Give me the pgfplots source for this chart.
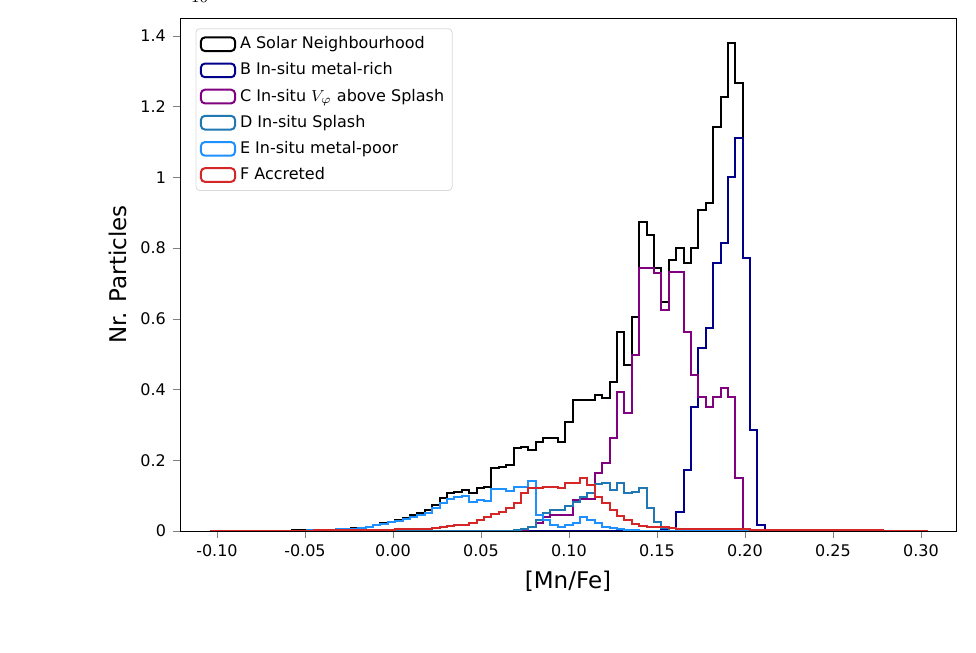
\documentclass[border=0pt]{standalone}
\usepackage{pgfplots}
\pgfplotsset{compat=1.18}
\usepackage{pgfplotstable}
\usepackage{fontspec}
\setmainfont{DejaVu Sans}
\definecolor{cB}{HTML}{00008B}
\definecolor{cC}{HTML}{800080}
\definecolor{cD}{HTML}{1F77B4}
\definecolor{cE}{HTML}{1E90FF}
\definecolor{cF}{HTML}{D62728}
\pgfplotstableread{
j A B C D E F
-70 0 0 0 0 0 0
-69 10 0 0 0 5 10
-68 10 0 0 0 5 10
-67 10 0 0 0 5 10
-66 10 0 0 0 5 10
-65 10 0 0 0 5 10
-64 10 0 0 0 5 10
-63 12 0 0 0 6 10
-62 12 0 0 0 6 10
-61 12 0 0 0 6 10
-60 12 0 0 0 8 10
-59 15 0 0 0 10 10
-58 15 0 0 0 10 10
-57 20 0 0 0 15 12
-56 25 0 0 0 20 15
-55 30 0 0 0 25 15
-54 40 0 0 0 30 18
-53 50 0 0 0 45 20
-52 60 0 0 0 55 22
-51 75 0 0 0 70 25
-50 94 0 0 0 90 28
-49 123 0 0 0 115 30
-48 170 0 0 0 160 33
-47 217 0 0 0 205 36
-46 264 0 0 0 250 40
-45 311 0 0 0 290 45
-44 358 0 0 0 330 50
-43 452 0 0 0 400 55
-42 519 0 0 0 460 60
-41 594 0 0 0 520 70
-40 735 0 0 0 640 94
-39 924 0 0 0 800 110
-38 1065 0 0 0 900 141
-37 1112 0 0 0 950 160
-36 1159 0 0 0 980 170
-35 1065 0 0 0 830 217
-34 1206 0 0 0 880 311
-33 1253 0 0 0 860 386
-32 1772 0 0 0 1200 470
-31 1819 0 0 0 1180 547
-30 1866 0 0 10 1120 641
-29 2337 0 0 30 1250 782
-28 2384 0 30 60 1253 1065
-27 2290 0 100 123 1414 1206
-26 2526 0 217 311 452 1206
-25 2620 0 400 499 311 1253
-24 2620 0 452 594 170 1253
-23 2526 0 452 594 123 1206
-22 3092 0 452 707 170 1348
-21 3705 0 870 829 240 1348
-20 3705 0 900 971 405 1489
-19 3705 0 900 1065 311 1300
-18 3846 0 1630 1329 217 971
-17 3752 0 1913 1348 123 800
-16 4223 0 2620 1160 75 600
-15 5637 0 3940 1348 60 420
-14 4694 0 3328 1065 40 306
-13 6061 0 4977 1112 20 212
-12 8747 0 7428 1206 10 150
-11 8370 0 7428 640 0 120
-10 7428 0 7287 264 0 110
-9 6486 20 6250 75 0 100
-8 7664 75 7334 0 0 80
-7 7994 546 7334 0 0 70
-6 7570 1725 5637 0 0 65
-5 7994 3516 4412 0 0 60
-4 9078 5166 3799 0 0 60
-3 9267 5730 3516 0 0 55
-2 11434 7570 3799 0 0 55
-1 12283 8137 4035 0 0 50
0 13790 10020 3799 0 0 50
1 12660 11105 1490 0 0 50
2 7710 7710 0 0 0 45
3 2856 2856 0 0 0 40
4 170 170 0 0 0 40
5 5 0 0 0 0 30
6 5 0 0 0 0 30
7 5 0 0 0 0 30
8 5 0 0 0 0 30
9 5 0 0 0 0 30
10 5 0 0 0 0 30
11 0 0 0 0 0 30
12 0 0 0 0 0 30
13 0 0 0 0 0 25
14 0 0 0 0 0 25
15 0 0 0 0 0 20
16 0 0 0 0 0 20
17 0 0 0 0 0 20
18 0 0 0 0 0 15
19 0 0 0 0 0 15
20 0 0 0 0 0 15
21 0 0 0 0 0 10
22 0 0 0 0 0 10
23 0 0 0 0 0 10
24 0 0 0 0 0 10
25 0 0 0 0 0 10
26 0 0 0 0 0 10
27 0 0 0 0 0 0
}\hist
\begin{document}
\begin{tikzpicture}
\begin{axis}[
  scale only axis, width=388pt, height=256.5pt,
  xmin=-0.121, xmax=0.3199, ymin=0, ymax=14508,
  xtick={-0.1,-0.05,0,0.05,0.1,0.15,0.2,0.25,0.3},
  ytick={0,2000,...,14000},
  x tick label style={/pgf/number format/fixed,/pgf/number format/fixed zerofill,/pgf/number format/precision=2},
  y tick label style={/pgf/number format/fixed,/pgf/number format/1000 sep={}},
  /pgf/number format/assume math mode=true,
  tick label style={font=\fontsize{8}{9.5}\selectfont},
  tick align=outside, tick pos=left,
  major tick length=3.5pt,
  xlabel={[Mn/Fe]}, ylabel={Nr. Particles},
  label style={font=\fontsize{11.5}{13}\selectfont},
  legend cell align=left,
  legend style={font=\fontsize{8}{10}\selectfont, draw=black!15, rounded corners=2pt, inner sep=2pt, row sep=1.5pt, at={(0.02,0.98)}, anchor=north west},
  legend image code/.code={\draw[#1] (0cm,-0.12cm) rectangle (0.6cm,0.12cm);},
  every axis plot/.append style={line width=1pt, const plot mark left, no marks},
  table/x expr=0.1903+0.0042*\thisrow{j},
]
\addplot[black] table[y=A] {\hist};
\addplot[cB] table[y=B] {\hist};
\addplot[cC] table[y=C] {\hist};
\addplot[cD] table[y=D] {\hist};
\addplot[cE] table[y=E] {\hist};
\addplot[cF] table[y=F] {\hist};
\legend{A Solar Neighbourhood, B In-situ metal-rich, C In-situ $V_\varphi$ above Splash, D In-situ Splash, E In-situ metal-poor, F Accreted}
\end{axis}
\pgfresetboundingbox
\path ([shift={(-90pt,-61pt)}]current axis.south west) rectangle ([shift={(10pt,9pt)}]current axis.north east);
\end{tikzpicture}
\end{document}
